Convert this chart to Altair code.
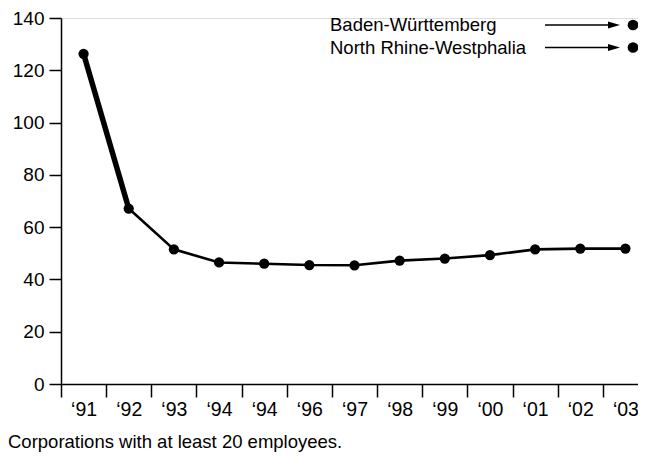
import altair as alt
import pandas as pd

# ---- data ----
year_labels = ["‘91", "‘92", "‘93", "‘94", "‘94", "‘96", "‘97", "‘98", "‘99", "‘00", "‘01", "‘02", "‘03"]
values = [126.3, 67.1, 51.5, 46.5, 46.0, 45.5, 45.4, 47.2, 48.0, 49.3, 51.5, 51.8, 51.8]
series_names = ["Baden-Württemberg", "North Rhine-Westphalia"]
caption = "Corporations with at least 20 employees."

FONT = "Liberation Sans"
TOP = 10
LEFT = 53
W, H = 587, 366

df = pd.DataFrame({"i": list(range(len(values))), "v": values})
leg = pd.DataFrame({"k": list(range(len(series_names))), "name": series_names})

label_js = "[" + ",".join("'" + s + "'" for s in year_labels) + "]"

x_enc = alt.X(
    "i:O",
    scale=alt.Scale(type="band", paddingInner=0, paddingOuter=0),
    axis=alt.Axis(
        title=None,
        labelExpr=label_js + "[datum.value]",
        labelAngle=0,
        labelFont=FONT,
        labelFontSize=19.5,
        labelColor="black",
        labelPadding=3,
        tickBand="extent",
        tickExtra=False,
        tickSize=13,
        tickWidth=1.5,
        tickColor="black",
        domainColor="black",
        domainWidth=1.5,
        grid=False,
    ),
)
y_enc = alt.Y(
    "v:Q",
    scale=alt.Scale(domain=[0, 140], nice=False, zero=True),
    axis=alt.Axis(
        title=None,
        values=[0, 20, 40, 60, 80, 100, 120, 140],
        labelFont=FONT,
        labelFontSize=19,
        labelColor="black",
        labelPadding=5,
        tickSize=12,
        tickWidth=1.5,
        tickColor="black",
        domainColor="black",
        domainWidth=1.5,
        grid=False,
    ),
)

base = alt.Chart(df)
line = base.mark_line(color="black", strokeWidth=2.6).encode(x=x_enc, y=y_enc)
thick = base.transform_filter("datum.i <= 1").mark_line(color="black", strokeWidth=5.5).encode(x=x_enc, y=y_enc)
pts = base.mark_point(filled=True, color="black", size=105, opacity=1).encode(x=x_enc, y=y_enc)

# legend annotation (page y 25 / 47.5 -> plot coordinates)
lbase = alt.Chart(leg).transform_calculate(ly="%d + datum.k * 22.5" % (25 - 8 - TOP))
ltext = lbase.mark_text(align="left", baseline="middle", font=FONT, fontSize=18.5, color="black").encode(
    x=alt.value(330 - 8 - LEFT), y=alt.Y("ly:Q", scale=None), text="name:N"
)
larrow = lbase.mark_rule(color="black", strokeWidth=1.5).encode(
    x=alt.value(545 - 8 - LEFT), x2=alt.value(614 - 8 - LEFT), y=alt.Y("ly:Q", scale=None)
)
lhead = lbase.mark_point(
    shape="M-1,-0.6 L1,0 L-1,0.6 Z", filled=True, color="black", size=144, opacity=1
).encode(x=alt.value(614 - 8 - LEFT), y=alt.Y("ly:Q", scale=None))
ldot = lbase.mark_point(filled=True, color="black", size=115, opacity=1).encode(
    x=alt.value(633 - 8 - LEFT), y=alt.Y("ly:Q", scale=None)
)

cap = alt.Chart(pd.DataFrame({"t": [caption]})).mark_text(
    align="left", baseline="alphabetic", font=FONT, fontSize=18.5, color="black"
).encode(x=alt.value(-LEFT), y=alt.value(448 - 8 - TOP), text="t:N")

chart = (
    alt.layer(line, thick, pts, ltext, larrow, lhead, ldot, cap)
    .properties(
        width=W,
        height=H,
        autosize=alt.AutoSizeParams(type="none"),
        padding={"left": LEFT, "top": TOP, "right": -10, "bottom": 448 - TOP - H},
    )
    .configure_view(stroke=None)
    .configure(background="white")
)

chart.save("out.html", embed_options={"renderer": "svg", "actions": False})
